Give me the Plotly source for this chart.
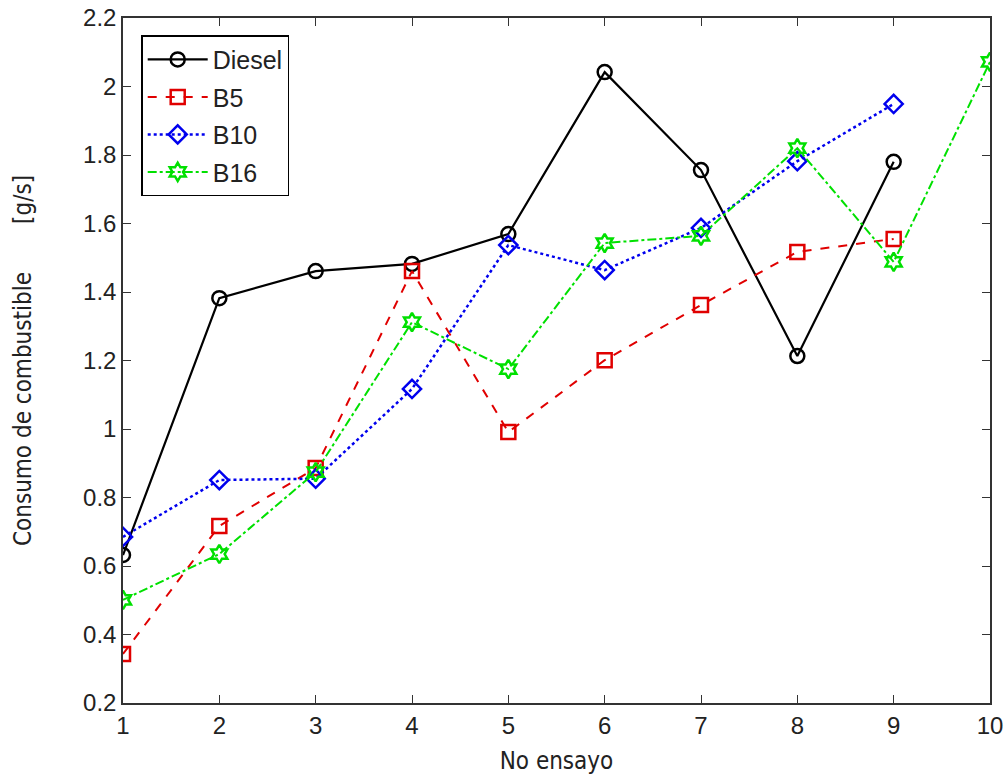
import plotly.graph_objects as go

ensayo = [1, 2, 3, 4, 5, 6, 7, 8, 9, 10]
diesel = [0.632, 1.382, 1.461, 1.482, 1.569, 2.042, 1.756, 1.213, 1.780]
b5 = [0.343, 0.717, 0.886, 1.461, 0.991, 1.201, 1.362, 1.517, 1.555]
b10 = [0.685, 0.851, 0.855, 1.117, 1.537, 1.464, 1.587, 1.782, 1.949]
b16 = [0.501, 0.635, 0.874, 1.312, 1.175, 1.543, 1.564, 1.820, 1.488, 2.072]

x_ticks = [1, 2, 3, 4, 5, 6, 7, 8, 9, 10]
y_ticks = [0.2, 0.4, 0.6, 0.8, 1.0, 1.2, 1.4, 1.6, 1.8, 2.0, 2.2]
y_tick_text = ["0.2", "0.4", "0.6", "0.8", "1", "1.2", "1.4", "1.6", "1.8", "2", "2.2"]

series = [
    ("Diesel", diesel, "black", "solid", "circle-open", 2.2),
    ("B5", b5, "#e00000", "dash", "square-open", 2),
    ("B10", b10, "#0000ee", "dot", "diamond-open", 2.5),
    ("B16", b16, "#00e000", "dashdot", "hexagram-open", 2),
]

fig = go.Figure()
for name, vals, color, dash, sym, w in series:
    fig.add_trace(go.Scatter(
        x=ensayo[:len(vals)], y=vals, name=name, legendgroup=name, mode="lines+markers",
        line=dict(color=color, dash=dash, width=w),
        marker=dict(symbol=sym, size=14, color=color, line=dict(width=2.5, color=color)),
    ))

axis_common = dict(
    showline=True, linecolor="#333333", linewidth=1.5, mirror="ticks",
    ticks="inside", ticklen=8, tickcolor="#333333", showgrid=False, zeroline=False,
    tickfont=dict(family="Liberation Sans, Arial", size=24, color="#222222"),
    ticklabeloverflow="allow", automargin=False,
)

title_font = dict(family="DejaVu Sans Condensed, Liberation Sans Narrow, Liberation Sans", size=24, color="#222222")

fig.update_layout(
    width=1008, height=780,
    margin=dict(l=123, r=18, t=18, b=77, autoexpand=False),
    paper_bgcolor="white", plot_bgcolor="white",
    xaxis=dict(range=[1, 10], tickvals=x_ticks,
               title=dict(text="No ensayo", standoff=15, font=title_font),
               **axis_common),
    yaxis=dict(range=[0.2, 2.2], tickvals=y_ticks, ticktext=y_tick_text,
               title=dict(text="Consumo de combustible" + "\u00a0" * 7 + "[g/s]", standoff=45,
                          font=title_font),
               **axis_common),
    legend=dict(x=0.021, y=0.975, xanchor="left", yanchor="top",
                bgcolor="white", bordercolor="black", borderwidth=1.5,
                font=dict(family="Liberation Sans, Arial", size=25, color="#222222"),
                tracegroupgap=2, itemwidth=60),
    showlegend=True,
)

fig.write_html("out.html", config={"displayModeBar": False},
               post_script="document.body.style.margin='0';")
